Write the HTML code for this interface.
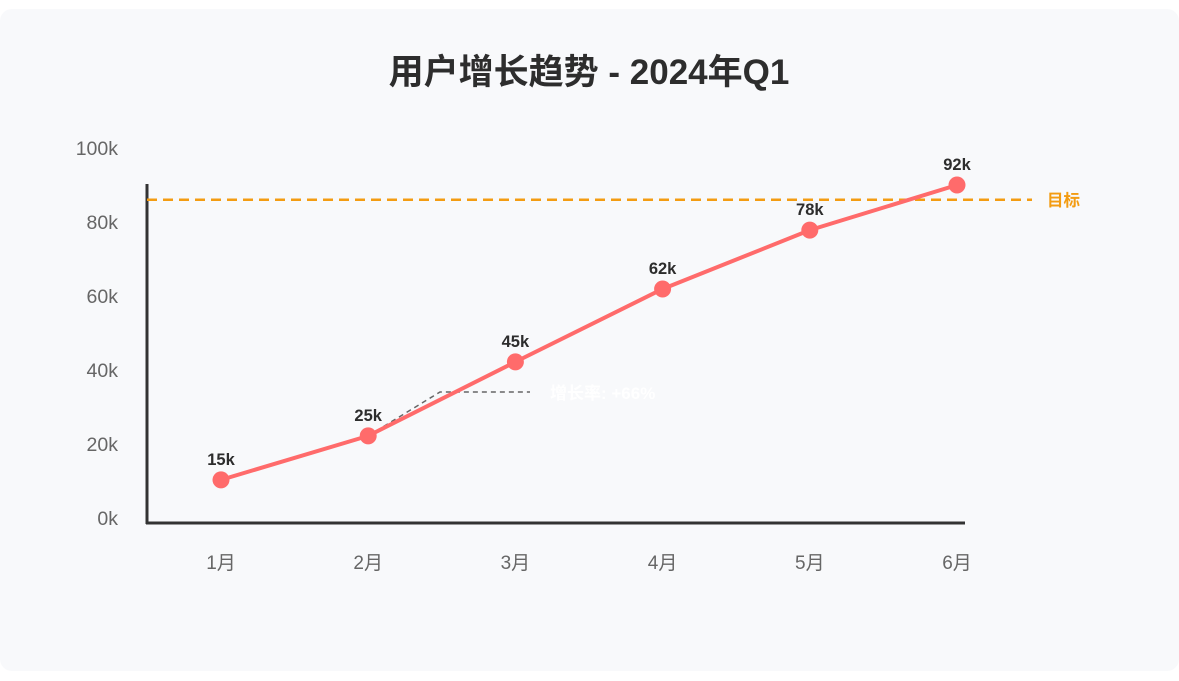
<!DOCTYPE html>
<html><head><meta charset="utf-8"><style>
body{margin:0;background:#fff;width:1179px;height:681px;overflow:hidden;font-family:"Liberation Sans","Noto Sans CJK SC",sans-serif}
#card{position:absolute;left:0;top:9px;width:1179px;height:662px;background:#f8f9fb;border-radius:12px}
svg{position:absolute;left:0;top:0}
</style></head><body>
<div id="card"></div>
<svg id="chart" width="1179" height="681">
<text x="589" y="84" text-anchor="middle" font-size="35" font-weight="bold" fill="#2d2d2d">用户增长趋势 - 2024年Q1</text>
</svg>
<script>
const categories=["1月","2月","3月","4月","5月","6月"];
const values=[10.3,22.2,42.2,61.9,77.8,90];
const valueLabels=["15k","25k","45k","62k","78k","92k"];
const yTicks=[0,20,40,60,80,100];
const targetValue=86;
const NS="http://www.w3.org/2000/svg";
const svg=document.getElementById('chart');
const x=i=>221+i*147.2;
const y=v=>518-v*3.7;
function mk(t,a,txt){const e=document.createElementNS(NS,t);for(const k in a)e.setAttribute(k,a[k]);if(txt!==undefined)e.textContent=txt;svg.appendChild(e);return e;}
yTicks.forEach(v=>{const e=mk('text',{x:118,y:y(v)+7,'text-anchor':'end','font-size':19.5,fill:'#666'},v+'k');

});
let a=mk('line',{x1:147,y1:184,x2:147,y2:524,stroke:'#333','stroke-width':3});


a=mk('line',{x1:146,y1:523,x2:965,y2:523,stroke:'#333','stroke-width':3});


categories.forEach((c,i)=>{const e=mk('text',{x:x(i),y:569,'text-anchor':'middle','font-size':19,fill:'#666'},c);

});
a=mk('line',{x1:147,y1:y(targetValue),x2:1032,y2:y(targetValue),stroke:'#f39c12','stroke-width':2.5,'stroke-dasharray':'10,6'});


a=mk('text',{x:1047,y:y(targetValue)+6,'font-size':16.5,'font-weight':'bold',fill:'#f39c12'},'目标');


a=mk('polyline',{points:`${x(1)},${y(values[1])} 440,392 530,392`,fill:'none',stroke:'#666','stroke-width':1.5,'stroke-dasharray':'5,4'});


a=mk('text',{x:550,y:399,'font-size':17,'font-weight':'bold',fill:'#fff'},'增长率: +66%');


a=mk('polyline',{points:values.map((v,i)=>x(i)+','+y(v)).join(' '),fill:'none',stroke:'#ff6b6b','stroke-width':4,'stroke-linejoin':'round'});


values.forEach((v,i)=>{const c=mk('circle',{cx:x(i),cy:y(v),r:8.5,fill:'#ff6b6b'});


const t=mk('text',{x:x(i),y:y(v)-15,'text-anchor':'middle','font-size':16.5,'font-weight':'bold',fill:'#2d2d2d'},valueLabels[i]);

});
</script>
</body></html>
